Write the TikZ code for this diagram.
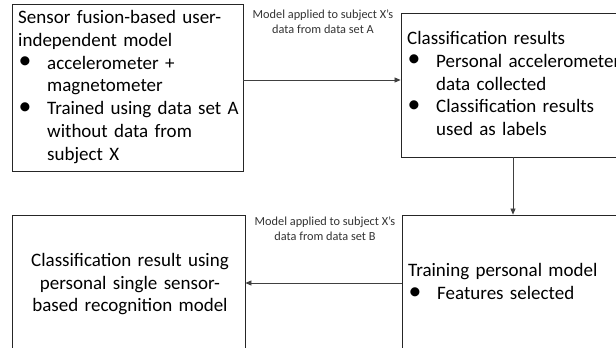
\documentclass[tikz,border=0pt]{standalone}
\usepackage{fontspec}
\setmainfont{Carlito}
\usetikzlibrary{arrows.meta}

\newcommand{\bul}{\makebox[29pt][l]{\hspace{0.5pt}\raisebox{0.3pt}{\scalebox{1.35}{\textbullet}}}}
\newcommand{\hang}{\hspace*{29pt}}

\begin{document}
\begin{tikzpicture}[x=1pt,y=-1pt,
  box/.style={draw=black!85, line width=0.8pt, rectangle, inner sep=0pt},
  body/.style={font=\fontsize{19}{22.8}\selectfont, inner sep=0pt, anchor=base west,
               text width=#1, align=left},
  note/.style={font=\fontsize{12.3}{14.8}\selectfont, inner sep=0pt, align=center,
               anchor=base, text=black!80},
  link/.style={draw=black!75, line width=0.7pt, -{Triangle[length=6pt,width=5pt]}}]
\useasboundingbox (0,0) rectangle (616,348);
\clip (0,0) rectangle (616,348);

% frames (two of them run past the right and bottom edges)
\node[box, minimum width=231pt, minimum height=167pt] (fusion) at (127.5,87.5) {};
\node[box, minimum width=239pt, minimum height=144pt] (results) at (520.5,85) {};
\node[box, minimum width=238pt, minimum height=165pt] (personal) at (521,297.5) {};
\node[box, minimum width=233pt, minimum height=165pt] (single) at (128.5,297.5) {};

% box contents
\node[body=228pt] (fusiontxt) at (18,23.5)
  {Sensor fusion-based user-\\independent model\\
   \bul accelerometer +\\\hang magnetometer\\
   \bul Trained using data set A\\\hang without data from\\\hang subject X};
\node[body=240pt] (resultstxt) at (407,44.5)
  {Classification results\\
   \bul Personal accelerometer\\\hang data collected\\
   \bul Classification results\\\hang used as labels};
\node[body=215pt] (personaltxt) at (408,276.5)
  {Training personal model\\
   \bul Features selected};
\node[font=\fontsize{19}{22.6}\selectfont, inner sep=0pt, anchor=base,
      text width=232pt, align=center] (singletxt) at (130,266.5)
  {Classification result using\\personal single sensor-\\based recognition model};

% connectors
\coordinate (ya) at (0,80);
\coordinate (yb) at (0,283);
\coordinate (xv) at (513,0);
\draw[link] (fusion.east |- ya) -- (results.west |- ya);
\draw[link] (results.south -| xv) -- (personal.north -| xv);
\draw[link] (personal.west |- yb) -- (single.east |- yb);

% connector labels
\node[note] (labela) at (323,33.3) {Model applied to subject X’s\\data from data set A};
\node[note] (labelb) at (325,240) {Model applied to subject X’s\\data from data set B};
\end{tikzpicture}
\end{document}
